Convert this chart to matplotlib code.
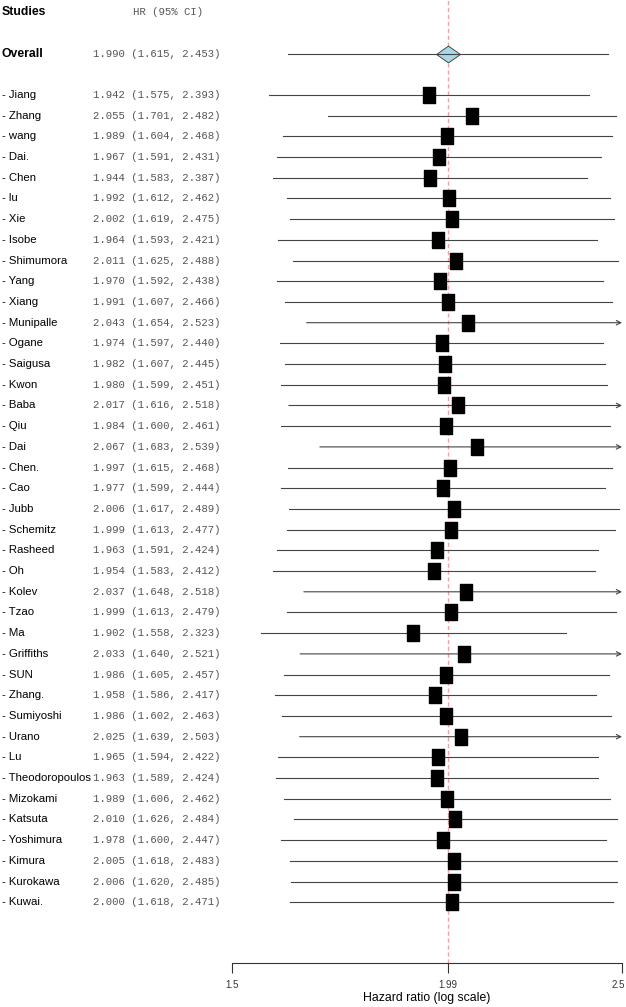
import numpy as np
import matplotlib
matplotlib.use("Agg")
import matplotlib.pyplot as plt
from matplotlib.ticker import FixedLocator, NullLocator
from matplotlib.transforms import blended_transform_factory, ScaledTranslation

# leave-one-out results
studies = ["Jiang", "Zhang", "wang", "Dai.", "Chen", "lu", "Xie", "Isobe",
           "Shimumora", "Yang", "Xiang", "Munipalle", "Ogane", "Saigusa",
           "Kwon", "Baba", "Qiu", "Dai", "Chen.", "Cao", "Jubb", "Schemitz",
           "Rasheed", "Oh", "Kolev", "Tzao", "Ma", "Griffiths", "SUN",
           "Zhang.", "Sumiyoshi", "Urano", "Lu", "Theodoropoulos",
           "Mizokami", "Katsuta", "Yoshimura", "Kimura", "Kurokawa", "Kuwai."]
hr = [1.942, 2.055, 1.989, 1.967, 1.944, 1.992, 2.002, 1.964, 2.011, 1.970,
      1.991, 2.043, 1.974, 1.982, 1.980, 2.017, 1.984, 2.067, 1.997, 1.977,
      2.006, 1.999, 1.963, 1.954, 2.037, 1.999, 1.902, 2.033, 1.986, 1.958,
      1.986, 2.025, 1.965, 1.963, 1.989, 2.010, 1.978, 2.005, 2.006, 2.000]
lo = [1.575, 1.701, 1.604, 1.591, 1.583, 1.612, 1.619, 1.593, 1.625, 1.592,
      1.607, 1.654, 1.597, 1.607, 1.599, 1.616, 1.600, 1.683, 1.615, 1.599,
      1.617, 1.613, 1.591, 1.583, 1.648, 1.613, 1.558, 1.640, 1.605, 1.586,
      1.602, 1.639, 1.594, 1.589, 1.606, 1.626, 1.600, 1.618, 1.620, 1.618]
hi = [2.393, 2.482, 2.468, 2.431, 2.387, 2.462, 2.475, 2.421, 2.488, 2.438,
      2.466, 2.523, 2.440, 2.445, 2.451, 2.518, 2.461, 2.539, 2.468, 2.444,
      2.489, 2.477, 2.424, 2.412, 2.518, 2.479, 2.323, 2.521, 2.457, 2.417,
      2.463, 2.503, 2.422, 2.424, 2.462, 2.484, 2.447, 2.483, 2.485, 2.471]
overall = (1.990, 1.615, 2.453)
xticks = [1.5, 1.99, 2.5]
xticklabels = ["1.5", "1.99", "2.5"]

W, H = 626, 1007
fig = plt.figure(figsize=(W / 100, H / 100), dpi=100)

# row geometry (pixels)
row_h = 20.7
y_first = 95.0
y_axis = 963.0
top_row = -y_first / row_h
bot_row = (y_axis - y_first) / row_h

lab_font = ["Liberation Sans", "DejaVu Sans"]
mono = ["Liberation Mono", "DejaVu Sans Mono"]

ax = fig.add_axes([232 / W, 1 - y_axis / H, (622 - 232) / W, y_axis / H])
ax.set_xscale("log")
ax.set_xlim(1.5, 2.5)
ax.set_ylim(bot_row, top_row)
for s in ["top", "left", "right"]:
    ax.spines[s].set_visible(False)
ax.spines["bottom"].set_color("#333333")
ax.spines["bottom"].set_linewidth(0.8)
ax.yaxis.set_major_locator(NullLocator())
ax.xaxis.set_major_locator(FixedLocator(xticks))
ax.xaxis.set_minor_locator(NullLocator())
ax.set_xticklabels(xticklabels)
ax.tick_params(axis="x", length=7, width=0.8, color="#333333", pad=5,
               labelsize=7, labelcolor="#333333")
for t in ax.get_xticklabels():
    t.set_family(lab_font)
last = ax.get_xticklabels()[-1]
last.set_transform(last.get_transform() + ScaledTranslation(-4 / 100, 0, fig.dpi_scale_trans))
ax.set_xlabel("Hazard ratio (log scale)", fontsize=8.8, labelpad=2,
              family=lab_font)

ax.axvline(overall[0], color="#f4a0a0", lw=1, ls=(0, (3, 2)), zorder=1)

line_col = "#444444"
box = [(-0.7, -1), (0.7, -1), (0.7, 1), (-0.7, 1), (-0.7, -1)]
for i in range(len(studies)):
    if hi[i] > 2.5:
        ax.annotate("", xy=(2.5, i), xytext=(lo[i], i),
                    arrowprops=dict(arrowstyle="->", lw=0.8, color=line_col,
                                    shrinkA=0, shrinkB=0, mutation_scale=8),
                    annotation_clip=False)
    else:
        ax.plot([lo[i], hi[i]], [i, i], color=line_col, lw=0.8, zorder=2)
    ax.plot(hr[i], i, marker=box, ms=12.2, color="black", zorder=3)

# overall
oy = -2
diamond = [(-1, 0), (0, 0.7), (1, 0), (0, -0.7), (-1, 0)]
ax.plot(overall[0], oy, marker=diamond, ms=17.3, mfc="#a8d8e6",
        mec="#333333", mew=0.6, zorder=3)
ax.plot([overall[1], overall[2]], [oy, oy], color=line_col, lw=0.8, zorder=4)

# text columns
ttr = blended_transform_factory(fig.transFigure, ax.transData)
x_lab = 2 / W
x_hr = 93 / W

ax.text(x_lab, -4, "Studies", transform=ttr, ha="left", va="center",
        fontsize=8.8, fontweight="bold", family=lab_font, clip_on=False)
ax.text(133 / W, -4, "HR (95% CI)", transform=ttr, ha="left", va="center",
        fontsize=7.7, color="#555555", family=mono, clip_on=False)
ax.text(x_lab, oy, "Overall", transform=ttr, ha="left", va="center",
        fontsize=8.8, fontweight="bold", family=lab_font, clip_on=False)
ax.text(x_hr, oy, "%.3f (%.3f, %.3f)" % overall, transform=ttr, ha="left",
        va="center", fontsize=7.7, color="#555555", family=mono, clip_on=False)
for i, name in enumerate(studies):
    ax.text(x_lab, i, "- " + name, transform=ttr, ha="left", va="center",
            fontsize=8.2, family=lab_font, clip_on=False)
    ax.text(x_hr, i, "%.3f (%.3f, %.3f)" % (hr[i], lo[i], hi[i]),
            transform=ttr, ha="left", va="center", fontsize=7.7,
            color="#555555", family=mono, clip_on=False)

fig.savefig("out.png", dpi=100)
